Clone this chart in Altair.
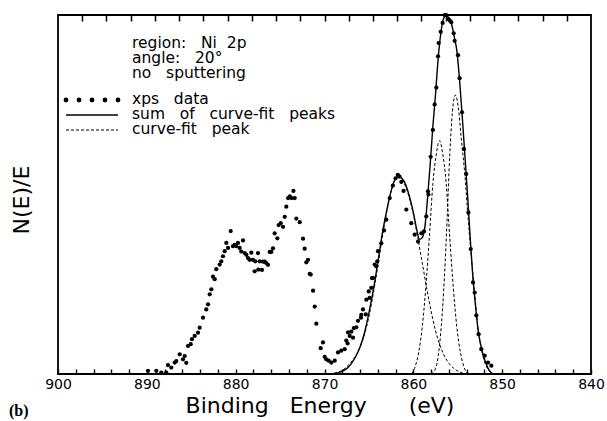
import altair as alt
import pandas as pd

# ---------------- data ----------------
# XPS data points: binding energy (eV) and normalised N(E)/E
xps_ev = [889.87, 888.93, 888.37, 887.81, 887.62, 887.25, 886.86, 886.68, 886.30, 885.93,
          885.74, 885.56, 885.37, 885.06, 884.92, 884.61, 884.24, 884.05, 883.68, 883.31,
          883.11, 882.92, 882.74, 882.55, 882.36, 882.18, 881.80, 881.62, 881.43, 881.24,
          881.05, 880.86, 880.56, 880.30, 880.11, 879.93, 879.74, 879.55, 879.37, 879.17,
          878.98, 878.80, 878.61, 878.42, 878.24, 878.05, 877.86, 877.79, 877.49, 877.45,
          877.30, 877.04, 876.92, 876.73, 876.55, 876.36, 876.17, 875.99, 875.80, 875.61,
          875.31, 875.16, 874.93, 874.67, 874.48, 874.30, 874.10, 873.90, 873.70, 873.50,
          873.35, 873.17, 872.79, 872.42, 872.23, 872.05, 871.86, 871.67, 871.55, 871.29,
          871.10, 870.92, 870.43, 870.17, 869.98, 869.80, 869.53, 869.23, 868.85, 868.48,
          868.11, 867.73, 867.55, 867.40, 867.35, 867.16, 866.98, 866.79, 866.70, 866.42,
          866.23, 865.90, 865.86, 865.67, 865.35, 865.29, 865.02, 864.92, 864.73, 864.65,
          864.54, 864.35, 864.17, 864.06, 863.98, 863.61, 863.30, 863.04, 862.66, 862.30,
          862.00, 861.75, 861.55, 861.35, 861.10, 860.79, 860.23, 859.85, 859.47, 859.10,
          858.80, 858.54, 858.35, 858.30, 858.05, 857.80, 857.60, 857.41, 857.22, 857.15,
          856.92, 856.70, 856.47, 856.30, 856.10, 855.90, 855.73, 855.46, 855.35, 854.97,
          854.79, 854.52, 854.30, 854.04, 853.80, 853.54, 853.28, 853.09, 852.91, 852.65,
          852.35, 851.97, 851.60, 851.22]
xps_n = [0.009, 0.009, 0.004, 0.004, 0.025, 0.018, 0.032, 0.036, 0.055, 0.041,
         0.050, 0.031, 0.078, 0.083, 0.097, 0.106, 0.115, 0.129, 0.157, 0.180,
         0.194, 0.222, 0.236, 0.271, 0.264, 0.292, 0.305, 0.314, 0.328, 0.342,
         0.365, 0.351, 0.398, 0.356, 0.360, 0.356, 0.365, 0.351, 0.341, 0.372,
         0.337, 0.332, 0.323, 0.318, 0.338, 0.318, 0.286, 0.314, 0.337, 0.291,
         0.314, 0.290, 0.313, 0.313, 0.309, 0.304, 0.340, 0.340, 0.350, 0.392,
         0.378, 0.415, 0.420, 0.410, 0.438, 0.466, 0.490, 0.495, 0.490, 0.510,
         0.490, 0.433, 0.423, 0.377, 0.349, 0.311, 0.318, 0.279, 0.277, 0.232,
         0.188, 0.140, 0.072, 0.088, 0.048, 0.041, 0.037, 0.032, 0.037, 0.060,
         0.065, 0.069, 0.093, 0.085, 0.116, 0.106, 0.118, 0.101, 0.128, 0.130,
         0.148, 0.157, 0.165, 0.180, 0.166, 0.207, 0.230, 0.212, 0.240, 0.267,
         0.268, 0.305, 0.300, 0.314, 0.342, 0.364, 0.400, 0.430, 0.490, 0.525,
         0.545, 0.555, 0.550, 0.535, 0.510, 0.458, 0.420, 0.388, 0.369, 0.392,
         0.397, 0.439, 0.509, 0.500, 0.605, 0.680, 0.751, 0.798, 0.885, 0.922,
         0.953, 0.978, 1.000, 1.000, 0.990, 0.985, 0.980, 0.949, 0.928, 0.888,
         0.824, 0.729, 0.627, 0.557, 0.450, 0.348, 0.255, 0.227, 0.163, 0.111,
         0.069, 0.051, 0.032, 0.023]

# sum of curve-fit peaks (solid line)
sum_ev = [869.0, 868.5, 868.0, 867.5, 867.0, 866.5, 866.0, 865.5, 865.0, 864.5,
          864.0, 863.5, 863.0, 862.5, 862.0, 861.7, 861.3, 861.0, 860.5, 860.0,
          859.6, 859.3, 859.0, 858.7, 858.4, 858.1, 857.8, 857.5, 857.2, 856.9,
          856.6, 856.3, 856.0, 855.7, 855.4, 855.1, 854.8, 854.5, 854.2, 853.9,
          853.6, 853.3, 853.0, 852.7, 852.4, 852.1, 851.8, 851.5, 851.2, 851.0]
sum_n = [0.000, 0.003, 0.008, 0.015, 0.028, 0.048, 0.075, 0.115, 0.170, 0.235,
         0.310, 0.390, 0.455, 0.510, 0.545, 0.550, 0.545, 0.535, 0.500, 0.450,
         0.400, 0.375, 0.380, 0.410, 0.490, 0.585, 0.690, 0.780, 0.880, 0.950,
         0.990, 1.000, 0.990, 0.975, 0.940, 0.900, 0.820, 0.720, 0.610, 0.500,
         0.380, 0.270, 0.190, 0.120, 0.080, 0.050, 0.028, 0.012, 0.003, 0.000]

# individual curve-fit peaks (dashed lines)
peak_a_ev = [869.5, 869.0, 868.5, 868.0, 867.5, 867.0, 866.5, 866.0, 865.5, 865.0,
             864.5, 864.0, 863.5, 863.0, 862.5, 862.0, 861.7, 861.3, 861.0, 860.5,
             860.0, 859.5, 859.0, 858.5, 858.0, 857.5, 857.0, 856.5, 856.0, 855.5,
             855.0, 854.5, 854.0]
peak_a_n = [0.000, 0.002, 0.005, 0.010, 0.020, 0.033, 0.050, 0.075, 0.110, 0.160,
            0.225, 0.300, 0.380, 0.450, 0.510, 0.545, 0.550, 0.545, 0.530, 0.495,
            0.445, 0.380, 0.310, 0.240, 0.175, 0.120, 0.080, 0.050, 0.030, 0.017,
            0.008, 0.003, 0.000]
peak_b_ev = [860.2, 859.8, 859.4, 859.0, 858.6, 858.2, 857.8, 857.4, 857.05,
             856.7, 856.3, 855.9, 855.5, 855.1, 854.7, 854.3, 853.9]
peak_b_n = [0.000, 0.020, 0.060, 0.130, 0.240, 0.380, 0.530, 0.615, 0.650,
            0.615, 0.530, 0.380, 0.240, 0.130, 0.060, 0.020, 0.000]
peak_c_ev = [858.0, 857.5, 857.2, 856.85, 856.5, 856.2, 855.9, 855.6, 855.28, 854.95,
             854.6, 854.2, 853.9, 853.5, 853.1, 852.7, 852.3, 851.9, 851.5, 851.0]
peak_c_n = [0.000, 0.015, 0.050, 0.135, 0.270, 0.430, 0.610, 0.730, 0.777, 0.745,
            0.655, 0.555, 0.455, 0.335, 0.225, 0.125, 0.065, 0.028, 0.010, 0.000]

# axis ticks (bottom: every 2 eV, labelled every 10 eV; top: plain ticks)
bottom_ticks = [900, 898, 896, 894, 892, 890, 888, 886, 884, 882, 880, 878, 876,
                874, 872, 870, 868, 866, 864, 862, 860, 858, 856, 854, 852, 850,
                848, 846, 844, 842, 840]
top_ticks = [897.27, 894.55, 891.82, 889.09, 886.36, 883.64, 880.91, 878.18, 875.45,
             872.73, 870.00, 867.27, 864.55, 861.82, 859.09, 856.36, 853.64, 850.91,
             848.18, 845.45, 842.73]

NB = "\u00a0"
info_lines = ["region:" + NB * 3 + "Ni" + NB * 2 + "2p",
              "angle:" + NB * 3 + "20°",
              "no" + NB * 3 + "sputtering"]
legend_lines = ["xps" + NB * 3 + "data",
                "sum" + NB * 3 + "of" + NB * 3 + "curve-fit" + NB * 3 + "peaks",
                "curve-fit" + NB * 3 + "peak"]
x_title = "Binding" + NB * 3 + "Energy" + NB * 6 + "(eV)"
y_title = "N(E)/E"

# ---------------- tables ----------------
df_xps = pd.DataFrame({"eV": xps_ev, "N": xps_n})
df_sum = pd.DataFrame({"eV": sum_ev, "N": sum_n})
df_peaks = pd.concat([
    pd.DataFrame({"eV": peak_a_ev, "N": peak_a_n, "peak": "A"}),
    pd.DataFrame({"eV": peak_b_ev, "N": peak_b_n, "peak": "B"}),
    pd.DataFrame({"eV": peak_c_ev, "N": peak_c_n, "peak": "C"}),
])
one = pd.DataFrame({"k": [0]})

FONT = "DejaVu Sans"
W, H = 533, 359
TICK = 5

xscale = alt.Scale(domain=[840, 900], reverse=True, nice=False, zero=False)
yscale = alt.Scale(domain=[0, 1], nice=False, zero=False)

bottom_axis = alt.Axis(
    orient="bottom", values=bottom_ticks,
    labelExpr="datum.value % 10 === 0 ? datum.label : ''",
    ticks=True, tickSize=TICK, tickWidth=1.4, tickColor="black", tickOpacity=1,
    offset=-TICK, zindex=2,
    domain=False, grid=False, labelFontSize=14, labelFont=FONT, labelColor="black",
    labelFlush=False, labelOverlap=False, labelPadding=3, title=None)
top_axis = alt.Axis(
    orient="top", values=top_ticks, labels=False,
    ticks=True, tickSize=TICK + 1, tickWidth=1.5, tickColor="black", tickOpacity=1,
    offset=-(TICK + 1), zindex=2,
    domain=False, grid=False, title=None)

points = alt.Chart(df_xps).mark_circle(size=18, color="black", opacity=1).encode(
    x=alt.X("eV:Q", scale=xscale, axis=bottom_axis),
    y=alt.Y("N:Q", scale=yscale, axis=None))

sum_line = alt.Chart(df_sum).mark_line(color="black", strokeWidth=1.4,
                                       interpolate="monotone").encode(
    x=alt.X("eV:Q", scale=xscale, axis=top_axis),
    y=alt.Y("N:Q", scale=yscale, axis=None))

peak_lines = alt.Chart(df_peaks).mark_line(color="black", strokeWidth=1,
                                           strokeDash=[3, 2],
                                           interpolate="monotone").encode(
    x=alt.X("eV:Q", scale=xscale, axis=None),
    y=alt.Y("N:Q", scale=yscale, axis=None), detail="peak:N")

info_text = alt.Chart(one).mark_text(
    font=FONT, fontSize=15.5, align="left", baseline="alphabetic",
    lineHeight=15, color="black").encode(
    x=alt.value(74), y=alt.value(33), text=alt.value(info_lines))

legend_text = alt.Chart(one).mark_text(
    font=FONT, fontSize=15.5, align="left", baseline="alphabetic",
    lineHeight=15, color="black").encode(
    x=alt.value(74), y=alt.value(89), text=alt.value(legend_lines))

legend_dots = alt.Chart(one).mark_rule(
    color="black", strokeWidth=4.8, strokeDash=[0, 13], strokeCap="round").encode(
    x=alt.value(8), x2=alt.value(61), y=alt.value(85))
legend_solid = alt.Chart(one).mark_rule(color="black", strokeWidth=1.5).encode(
    x=alt.value(8), x2=alt.value(60), y=alt.value(100))
legend_dash = alt.Chart(one).mark_rule(color="black", strokeWidth=1,
                                       strokeDash=[3, 2]).encode(
    x=alt.value(8), x2=alt.value(60), y=alt.value(115))

x_title_text = alt.Chart(one).mark_text(
    font=FONT, fontSize=22, align="center", baseline="alphabetic",
    color="black").encode(
    x=alt.value(262), y=alt.value(398), text=alt.value(x_title))

y_title_text = alt.Chart(one).mark_text(
    font=FONT, fontSize=22, align="center", baseline="middle", angle=270,
    color="black").encode(
    x=alt.value(-36), y=alt.value(185), text=alt.value(y_title))

panel_label = alt.Chart(one).mark_text(
    font="Liberation Serif", fontSize=16, fontWeight="bold", align="left",
    baseline="alphabetic", color="black").encode(
    x=alt.value(-49), y=alt.value(401), text=alt.value("(b)"))

chart = alt.layer(
    points, sum_line, peak_lines,
    info_text, legend_text, legend_dots, legend_solid, legend_dash,
    x_title_text, y_title_text, panel_label
).resolve_axis(x="independent").properties(
    width=W, height=H,
    padding={"left": 58, "top": 15, "right": 16, "bottom": 47},
    autosize=alt.AutoSizeParams(type="none"),
    background="white",
).configure_view(stroke="black", strokeWidth=1.8)

chart.save("out.html", embed_options={"renderer": "svg", "actions": False})
